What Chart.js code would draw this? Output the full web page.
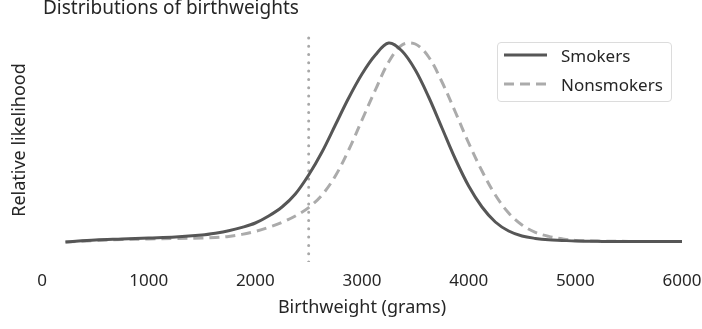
<!DOCTYPE html>
<html>
<head>
<meta charset="utf-8">
<script src="https://cdn.jsdelivr.net/npm/chart.js@4"></script>
<style>
  html, body { margin: 0; padding: 0; background: #fff; }
  #wrap { position: relative; width: 702px; height: 329px; overflow: hidden; font-family: 'Noto Sans', sans-serif; color: #262626; }
  #title { position: absolute; left: 43px; top: -2px; font-size: 19px; line-height: 19px; white-space: nowrap; }
  #legend { position: absolute; left: 497px; top: 42px; width: 173px; height: 58px; border: 1px solid #dcdcdc; border-radius: 4px; font-size: 17px; }
  .row { position: absolute; left: 0; height: 20px; display: flex; align-items: center; }
  .row svg { margin-left: 6px; margin-right: 14px; }
</style>
</head>
<body>
<div id="wrap">
  <canvas id="chart" width="702" height="329"></canvas>
  <div id="title">Distributions of birthweights</div>
  <div id="legend"></div>
</div>
<script>
  // ── Data ──────────────────────────────────────────────────────────────────
  const WEIGHTS = [220, 500, 750, 1000, 1250, 1500, 1625, 1750, 1875, 2000, 2125, 2250, 2375, 2500,
                   2625, 2750, 2875, 3000, 3125, 3250, 3375, 3500, 3625, 3750, 3875, 4000,
                   4125, 4250, 4375, 4500, 4625, 4750, 4875, 5000, 5250, 5500, 5750, 6000];

  const SMOKERS = [0.0, 0.01, 0.015, 0.02, 0.025, 0.035, 0.044, 0.056, 0.073, 0.095, 0.13, 0.175, 0.24, 0.335,
                   0.45, 0.585, 0.72, 0.84, 0.935, 0.995, 0.955, 0.86, 0.725, 0.57, 0.415, 0.28,
                   0.175, 0.10, 0.055, 0.03, 0.018, 0.011, 0.008, 0.005, 0.003, 0.002, 0.002, 0.002];

  const NONSMOKERS = [0.0, 0.0075, 0.0125, 0.015, 0.0175, 0.02, 0.023, 0.028, 0.038, 0.053, 0.073, 0.098, 0.13, 0.172,
                      0.235, 0.33, 0.46, 0.61, 0.76, 0.90, 0.985, 0.99, 0.925, 0.80, 0.65, 0.495,
                      0.355, 0.235, 0.145, 0.085, 0.048, 0.028, 0.016, 0.008, 0.004, 0.003, 0.002, 0.002];

  const CUTOFF = 2500;             // low birthweight threshold
  const CUTOFF_SPAN = [-0.1, 1.025];
  const X_TICKS = [0, 1000, 2000, 3000, 4000, 5000, 6000];
  const SERIES = ["Smokers", "Nonsmokers"];

  // ── Styles ────────────────────────────────────────────────────────────────
  const DARK  = "#565656";
  const LIGHT = "#ababab";
  const DOT   = "#a8a8a8";
  const INK   = "#262626";
  const FONT  = "'Noto Sans', sans-serif";

  const toPoints = (ys) => WEIGHTS.map((w, i) => ({ x: w, y: ys[i] }));

  new Chart(document.getElementById("chart"), {
    type: "line",
    data: {
      datasets: [
        {
          label: SERIES[0],
          data: toPoints(SMOKERS),
          borderColor: DARK,
          borderWidth: 3,
          pointRadius: 0,
          tension: 0.35,
          order: 1,
        },
        {
          label: SERIES[1],
          data: toPoints(NONSMOKERS),
          borderColor: LIGHT,
          borderWidth: 3,
          borderDash: [10, 6],
          pointRadius: 0,
          tension: 0.35,
          order: 2,
        },
        {
          label: "cutoff",
          data: CUTOFF_SPAN.map(y => ({ x: CUTOFF, y })),
          borderColor: DOT,
          borderWidth: 3,
          borderDash: [0, 8.3],
          borderCapStyle: "round",
          pointRadius: 0,
          order: 3,
        },
      ],
    },
    options: {
      responsive: false,
      animation: false,
      layout: { padding: { top: 18, right: 0, left: 0, bottom: 0 } },
      plugins: {
        legend: { display: false },
        tooltip: { enabled: false },
      },
      scales: {
        x: {
          type: "linear",
          min: 0,
          max: 6000,
          afterFit: (s) => { s.height = 67; s.paddingLeft = 0; s.paddingRight = 20; },
          afterBuildTicks: (s) => { s.ticks = X_TICKS.map(v => ({ value: v })); },
          grid: { display: false, drawTicks: false },
          border: { display: false },
          ticks: { color: INK, padding: 9, font: { family: FONT, size: 17 }, callback: (v) => String(v) },
          title: {
            display: true,
            text: "Birthweight (grams)",
            color: INK,
            font: { family: FONT, size: 18 },
            padding: { top: 0, bottom: 10 },
          },
        },
        y: {
          min: -0.1,
          max: 1.12,
          afterFit: (s) => { s.width = 42; },
          grid: { display: false, drawTicks: false },
          border: { display: false },
          ticks: { display: false },
          title: {
            display: true,
            text: "Relative likelihood",
            color: INK,
            font: { family: FONT, size: 18 },
            padding: { top: 9, bottom: 0 },
          },
        },
      },
    },
  });

  // ── Legend box (top right, inside the plot) ───────────────────────────────
  const legend = document.getElementById("legend");
  [[SERIES[0], DARK, ""], [SERIES[1], LIGHT, "10 6"]].forEach(([name, col, dash], i) => {
    const row = document.createElement("div");
    row.className = "row";
    row.style.top = (2 + i * 29) + "px";
    row.innerHTML =
      `<svg width="43" height="6"><line x1="0" y1="3" x2="43" y2="3" stroke="${col}" stroke-width="3" stroke-dasharray="${dash}"/></svg>` +
      `<span>${name}</span>`;
    legend.appendChild(row);
  });
</script>
</body>
</html>
